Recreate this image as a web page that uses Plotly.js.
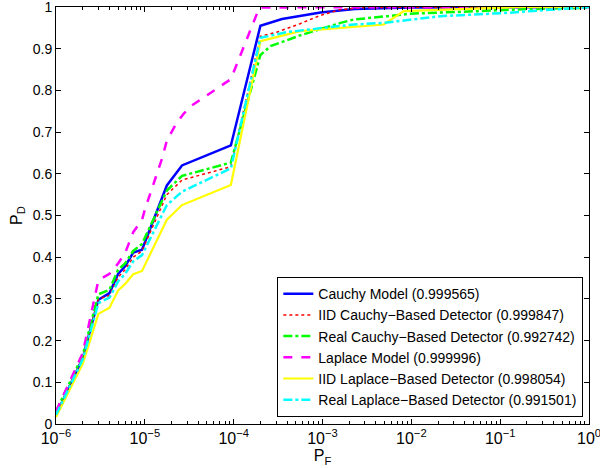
<!DOCTYPE html>
<html>
<head>
<meta charset="utf-8">
<script src="https://cdn.plot.ly/plotly-3.0.1.min.js"></script>
<style>html,body{margin:0;padding:0;background:#fff;}#chart{width:600px;height:468px;}</style>
</head>
<body>
<div id="chart"></div>
<script>
// Series names (legend labels)
const seriesNames = [
  "Cauchy Model (0.999565)",
  "IID Cauchy\u2212Based Detector (0.999847)",
  "Real Cauchy\u2212Based Detector (0.992742)",
  "Laplace Model (0.999996)",
  "IID Laplace\u2212Based Detector (0.998054)",
  "Real Laplace\u2212Based Detector (0.991501)"
];

// Tick values / labels
const yTicks = [0, 0.1, 0.2, 0.3, 0.4, 0.5, 0.6, 0.7, 0.8, 0.9, 1];
const yTickText = ["0", "0.1", "0.2", "0.3", "0.4", "0.5", "0.6", "0.7", "0.8", "0.9", "1"];
const xTicks = [1e-6, 1e-5, 1e-4, 1e-3, 1e-2, 1e-1, 1];
const xTickText = ["10<sup>\u22126</sup>", "10<sup>\u22125</sup>", "10<sup>\u22124</sup>", "10<sup>\u22123</sup>", "10<sup>\u22122</sup>", "10<sup>\u22121</sup>", "10<sup>0</sup>"];

// Cauchy Model
const pfCauchy = [1e-6,2e-6,3e-6,4e-6,5e-6,6e-6,7.4e-6,9.3e-6,1.77e-5,2.62e-5,9.3e-5,2e-4,3.5e-4,9.5e-4,2.3e-3,1e-2,1];
const pdCauchy = [0.021,0.158,0.298,0.314,0.360,0.378,0.411,0.418,0.572,0.620,0.668,0.955,0.971,0.987,0.995,0.999,1.0];

// IID Cauchy-Based Detector
const pfIidCauchy = [1e-6,2e-6,3e-6,4e-6,5e-6,6e-6,7.4e-6,9.3e-6,1.77e-5,2.62e-5,9.3e-5,2e-4,3.1e-4,5.6e-4,9.5e-4,1.6e-3,3e-3,1];
const pdIidCauchy = [0.025,0.160,0.300,0.308,0.352,0.370,0.400,0.415,0.550,0.585,0.617,0.930,0.940,0.960,0.980,0.994,0.999,1.0];

// Real Cauchy-Based Detector
const pfRealCauchy = [1e-6,2e-6,3e-6,4e-6,5e-6,6e-6,7.4e-6,9.3e-6,1.77e-5,2.62e-5,9.3e-5,2e-4,2.6e-4,5.6e-4,1.6e-3,2.25e-3,5.4e-3,9.8e-3,5.56e-2,0.2,1];
const pdRealCauchy = [0.030,0.165,0.311,0.322,0.370,0.385,0.415,0.432,0.560,0.595,0.627,0.885,0.906,0.932,0.962,0.970,0.978,0.984,0.990,0.995,0.998];

// Laplace Model
const pfLaplace = [1e-6,2e-6,3e-6,4e-6,5e-6,6e-6,7.4e-6,9.3e-6,1.01e-5,1.25e-5,1.56e-5,1.77e-5,2.2e-5,2.73e-5,3.39e-5,9.3e-5,1.95e-4,1];
const pdLaplace = [0.030,0.170,0.345,0.360,0.385,0.410,0.460,0.490,0.517,0.573,0.636,0.680,0.716,0.744,0.764,0.827,0.999,1.0];

// IID Laplace-Based Detector
const pfIidLaplace = [1e-6,2e-6,3e-6,4e-6,5e-6,6e-6,7.4e-6,9.3e-6,1.77e-5,2.62e-5,9.3e-5,2e-4,5.6e-4,2.25e-3,4.9e-3,8.2e-3,0.157,1];
const pdIidLaplace = [0.017,0.144,0.264,0.279,0.320,0.336,0.359,0.367,0.490,0.525,0.573,0.918,0.942,0.953,0.958,0.990,1.0,1.0];

// Real Laplace-Based Detector
const pfRealLaplace = [1e-6,2e-6,3e-6,4e-6,5e-6,6e-6,7.4e-6,9.3e-6,1.77e-5,2.62e-5,9.3e-5,2e-4,4e-4,2.25e-3,4.9e-3,2.14e-2,0.121,0.966,1];
const pdRealLaplace = [0.022,0.155,0.290,0.303,0.342,0.360,0.390,0.405,0.525,0.557,0.613,0.926,0.940,0.958,0.962,0.978,0.986,0.998,1.0];

const xData = [pfCauchy, pfIidCauchy, pfRealCauchy, pfLaplace, pfIidLaplace, pfRealLaplace];
const yData = [pdCauchy, pdIidCauchy, pdRealCauchy, pdLaplace, pdIidLaplace, pdRealLaplace];
const colors = ["#0000ff", "#ff0000", "#00ff00", "#ff00ff", "#ffff00", "#00ffff"];
const dashes = ["solid", "dot", "dashdot", "dash", "solid", "dashdot"];
const widths = [2.5, 1.5, 2.5, 2.5, 2.2, 2.5];

const traces = seriesNames.map((n, i) => ({
  type: "scatter", mode: "lines", name: n,
  x: xData[i], y: yData[i],
  line: {color: colors[i], dash: dashes[i], width: widths[i]}
}));

// minor log tick positions (2..9 x each decade) for an overlay axis
const minorTicks = [];
for (let e = -6; e < 0; e++) for (let m = 2; m <= 9; m++) minorTicks.push(m * Math.pow(10, e));
// anchor trace for the overlay axis (kept outside the visible y range)
traces.push({type: "scatter", mode: "markers", x: [1e-6, 1], y: [-5, -5], xaxis: "x2", yaxis: "y",
  marker: {size: 1, opacity: 0}, showlegend: false, hoverinfo: "skip", cliponaxis: true});

const font = {family: "Liberation Sans, Arial, Helvetica, sans-serif", size: 14, color: "#000"};

const layout = {
  width: 600, height: 468,
  margin: {l: 56, r: 11, t: 7, b: 44},
  paper_bgcolor: "#fff", plot_bgcolor: "#fff",
  font: font,
  showlegend: true,
  legend: {
    x: 0.989, y: 0.017, xanchor: "right", yanchor: "bottom",
    bordercolor: "#000", borderwidth: 1.2, bgcolor: "#fff",
    font: {family: font.family, size: 14, color: "#000"},
    itemwidth: 30, tracegroupgap: 0
  },
  xaxis: {
    type: "log", range: [-6, 0],
    tickmode: "array", tickvals: xTicks, ticktext: xTickText,
    showgrid: false, zeroline: false,
    showline: true, linecolor: "#000", linewidth: 1, mirror: "ticks",
    ticks: "inside", ticklen: 5, tickcolor: "#000",
    ticklabeloverflow: "allow",
    tickfont: {family: font.family, size: 16, color: "#000"},
    title: {text: "P<sub>F</sub>", font: {family: font.family, size: 16, color: "#000"}, standoff: 0}
  },
  xaxis2: {
    type: "log", range: [-6, 0], overlaying: "x", anchor: "y", side: "bottom",
    tickmode: "array", tickvals: minorTicks, showticklabels: false,
    showgrid: false, zeroline: false, showline: false,
    ticks: "inside", ticklen: 3, tickcolor: "#000", mirror: "ticks"
  },
  yaxis: {
    range: [0, 1], tickmode: "array", tickvals: yTicks, ticktext: yTickText,
    showgrid: false, zeroline: false,
    showline: true, linecolor: "#000", linewidth: 1, mirror: "ticks",
    ticks: "inside", ticklen: 5, tickcolor: "#000",
    ticklabeloverflow: "allow",
    tickfont: {family: font.family, size: 14, color: "#000"},
    title: {text: "P<sub>D</sub>", font: {family: font.family, size: 16, color: "#000"}, standoff: 6}
  }
};

Plotly.newPlot("chart", traces, layout, {displayModeBar: false, staticPlot: true});
</script>
</body>
</html>
